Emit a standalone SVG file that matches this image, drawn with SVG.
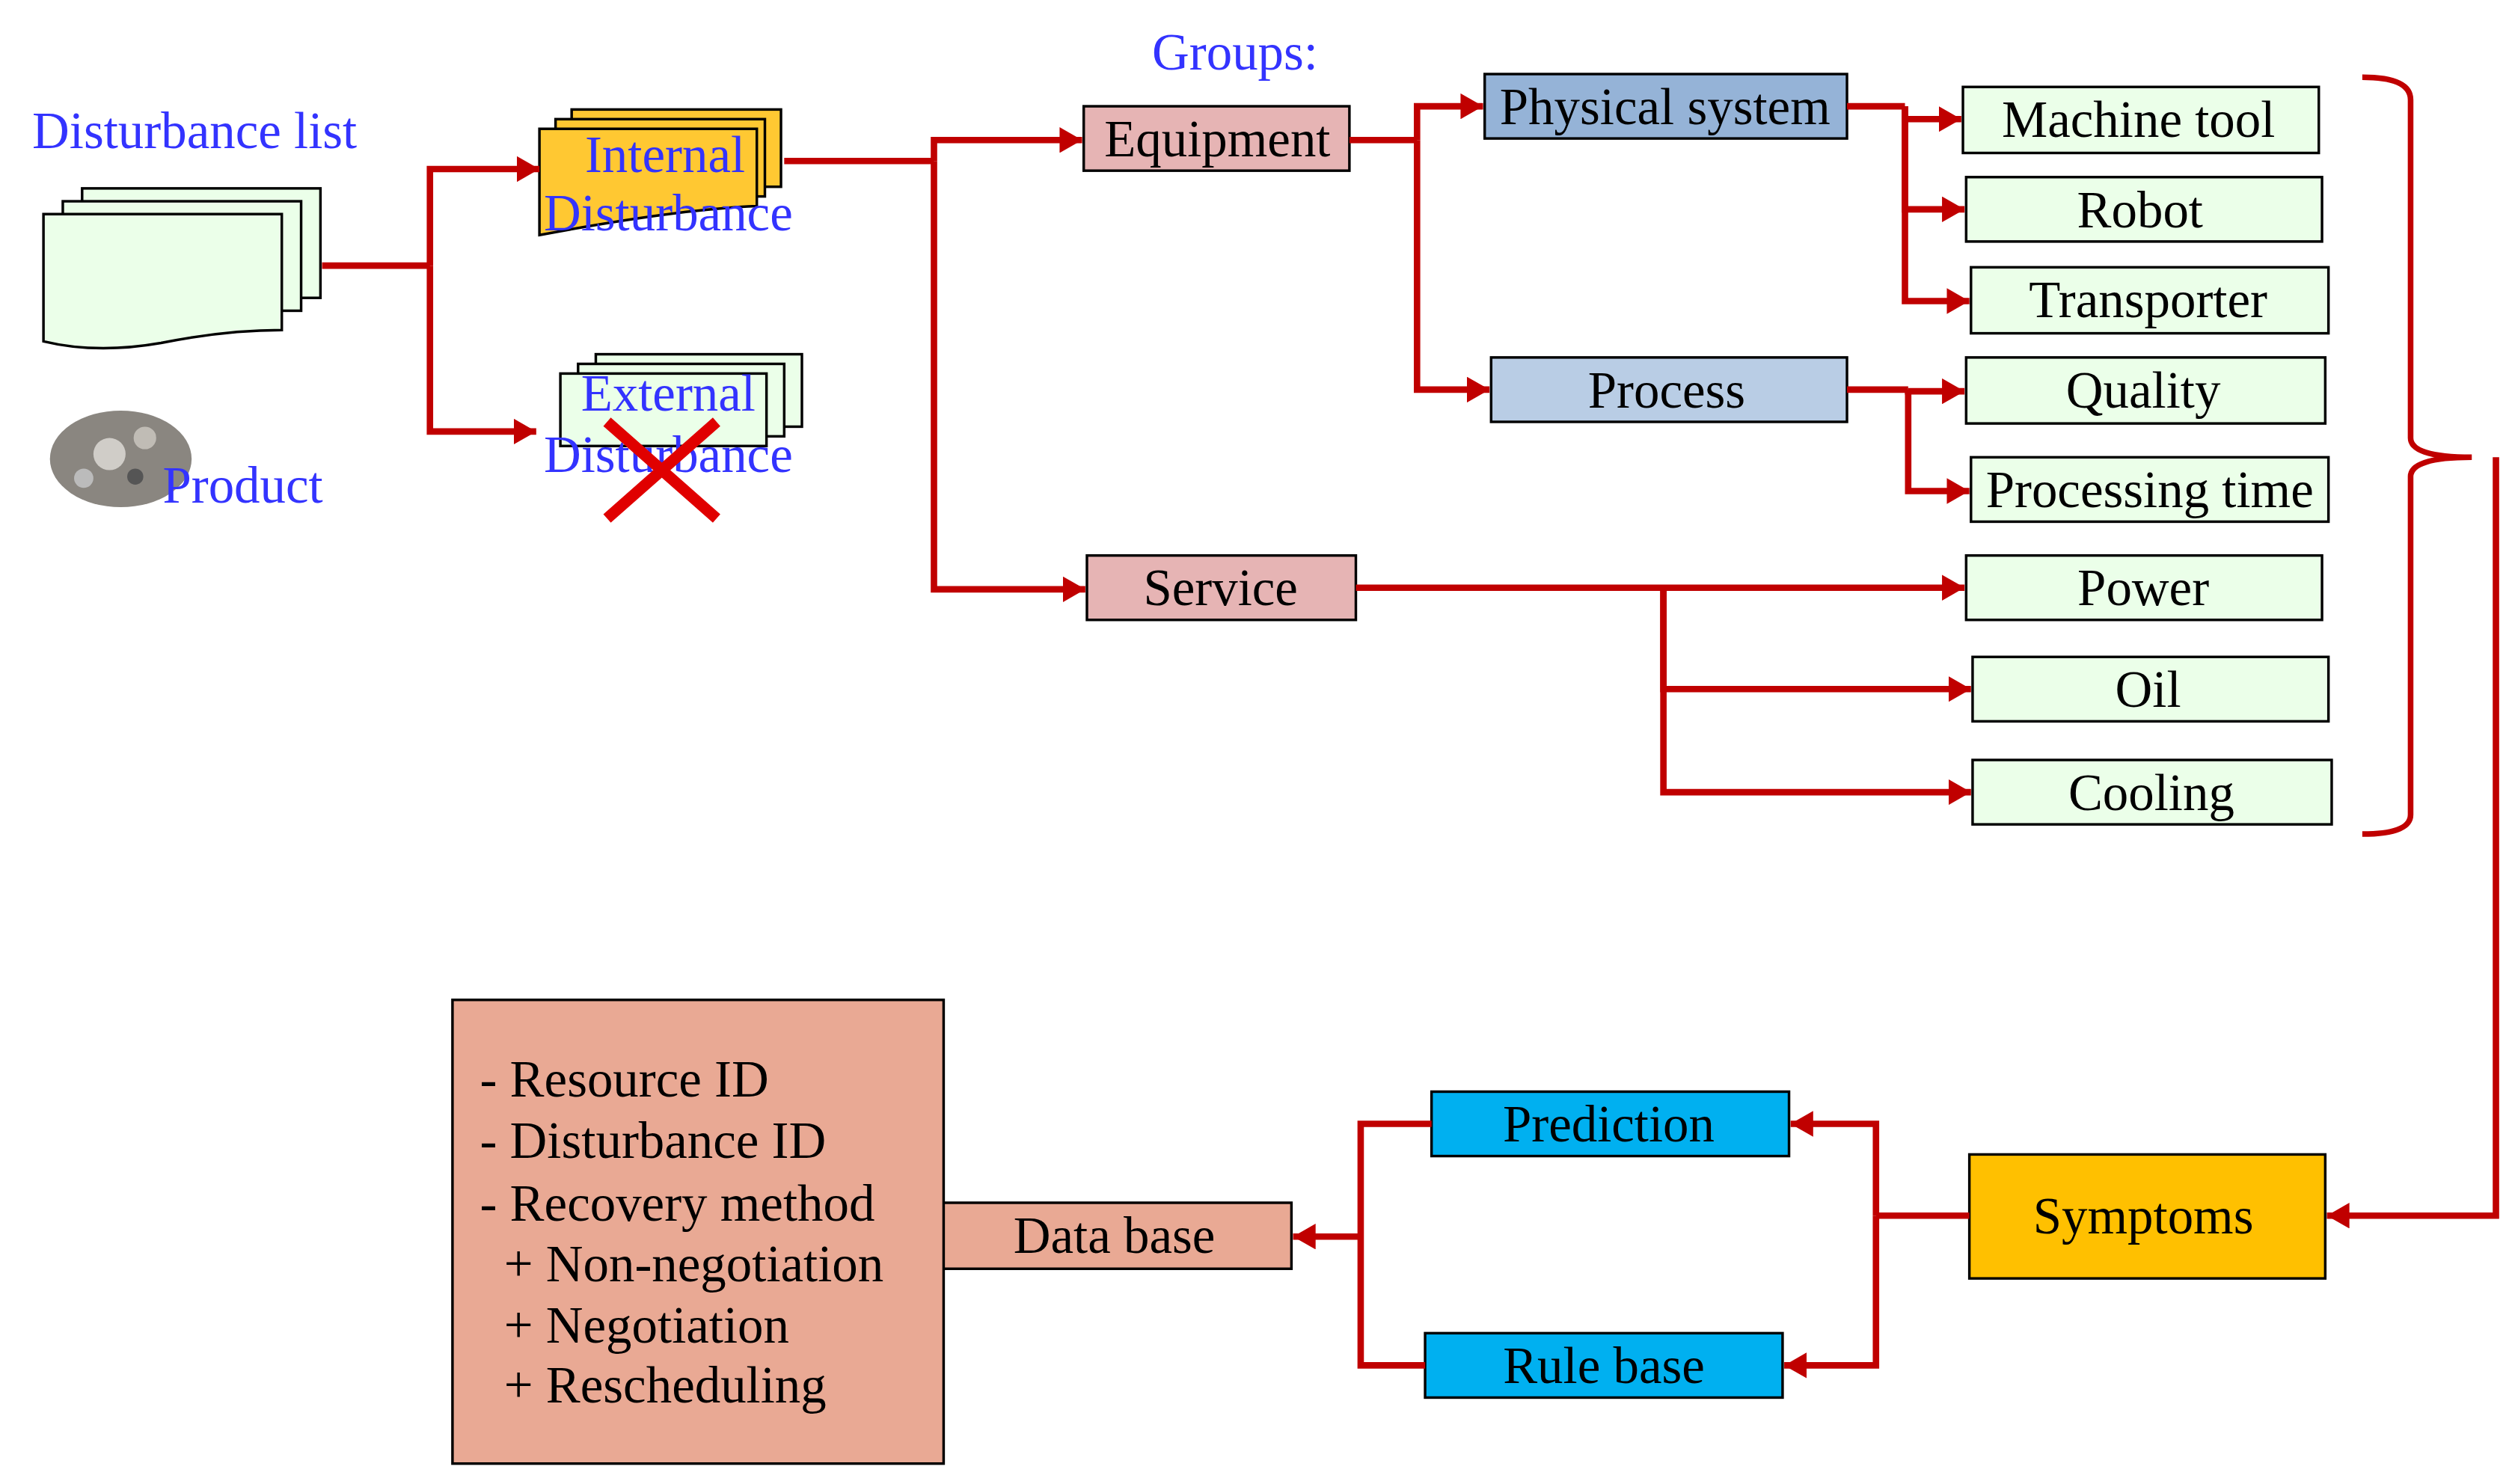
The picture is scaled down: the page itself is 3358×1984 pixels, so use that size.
<svg xmlns="http://www.w3.org/2000/svg" width="3358" height="1984" viewBox="0 0 3358 1984">
<defs>
<marker id="ah" viewBox="0 0 14 16" refX="14" refY="8" markerWidth="14" markerHeight="16" markerUnits="userSpaceOnUse" orient="auto"><path d="M0,0 L14,8 L0,16 Z" fill="#C00000"/></marker>
<style>
.b{stroke:#000;stroke-width:1.6}
.t{font-family:"Liberation Serif",serif;font-size:32px;fill:#000;text-anchor:middle}
.bl{font-family:"Liberation Serif",serif;font-size:32px;fill:#3333FF}
.c{fill:none;stroke:#C00000;stroke-width:4}
.a{marker-end:url(#ah)}
.g{fill:#EBFFE9}
</style>
</defs>
<rect width="3358" height="1984" fill="#fff"/>
<g transform="scale(2.1526)">
<g id="disturbance-list">
<text class="bl" x="20" y="92">Disturbance list</text>
<rect x="51" y="117" width="148" height="68" class="b g"/>
<rect x="39" y="125" width="148" height="68" class="b g"/>
<path d="M27,133 H175 V205 Q140,205 100,213 Q60,220 27,212 Z" class="b g"/>
</g>
<g id="product">
<ellipse cx="75" cy="285" rx="44" ry="30" fill="#8a8680"/>
<circle cx="68" cy="282" r="10" fill="#d0cdc8"/><circle cx="90" cy="272" r="7" fill="#c0bcb5"/><circle cx="52" cy="297" r="6" fill="#bbb"/><circle cx="84" cy="296" r="5" fill="#555"/>
<text class="bl" x="101" y="312">Product</text>
</g>
<g id="internal">
<rect x="355" y="68" width="130" height="48" class="b" fill="#FFC832"/>
<rect x="345" y="74" width="130" height="48" class="b" fill="#FFC832"/>
<path d="M335,80 H470 V128 Q420,130 335,146 Z" class="b" fill="#FFC832"/>
<text class="bl" x="413" y="107" text-anchor="middle">Internal</text>
<text class="bl" x="415" y="143" text-anchor="middle">Disturbance</text>
</g>
<g id="external">
<rect x="370" y="220" width="128" height="45" class="b g"/>
<rect x="359" y="226" width="128" height="45" class="b g"/>
<rect x="348" y="232" width="128" height="45" class="b g"/>
<text class="bl" x="415" y="255" text-anchor="middle">External</text>
<text class="bl" x="415" y="293" text-anchor="middle">Disturbance</text>
<path d="M377,262 L445,322 M445,262 L377,322" stroke="#E00000" stroke-width="7"/>
</g>
<text class="bl" x="767" y="43" text-anchor="middle">Groups:</text>
<g id="equipment"><rect x="673" y="66" width="165" height="40" class="b" fill="#E6B4B4"/><text class="t" x="756" y="97">Equipment</text></g>
<g id="service"><rect x="675" y="345" width="167" height="40" class="b" fill="#E6B4B4"/><text class="t" x="758" y="376">Service</text></g>
<g id="physical"><rect x="922" y="46" width="225" height="40" class="b" fill="#95B3D7"/><text class="t" x="1034" y="77">Physical system</text></g>
<g id="process"><rect x="926" y="222" width="221" height="40" class="b" fill="#B9CDE5"/><text class="t" x="1035" y="253">Process</text></g>
<g id="machine"><rect x="1219" y="54" width="221" height="41" class="b g"/><text class="t" x="1328" y="85">Machine tool</text></g>
<g id="robot"><rect x="1221" y="110" width="221" height="40" class="b g"/><text class="t" x="1329" y="141">Robot</text></g>
<g id="transporter"><rect x="1224" y="166" width="222" height="41" class="b g"/><text class="t" x="1334" y="197">Transporter</text></g>
<g id="quality"><rect x="1221" y="222" width="223" height="41" class="b g"/><text class="t" x="1331" y="253">Quality</text></g>
<g id="ptime"><rect x="1224" y="284" width="222" height="40" class="b g"/><text class="t" x="1335" y="315">Processing time</text></g>
<g id="power"><rect x="1221" y="345" width="221" height="40" class="b g"/><text class="t" x="1331" y="376">Power</text></g>
<g id="oil"><rect x="1225" y="408" width="221" height="40" class="b g"/><text class="t" x="1334" y="439">Oil</text></g>
<g id="cooling"><rect x="1225" y="472" width="223" height="40" class="b g"/><text class="t" x="1336" y="503">Cooling</text></g>
<g id="symptoms"><rect x="1223" y="717" width="221" height="77" class="b" fill="#FFC000"/><text class="t" x="1331" y="766">Symptoms</text></g>
<g id="prediction"><rect x="889" y="678" width="222" height="40" class="b" fill="#00B0F0"/><text class="t" x="999" y="709">Prediction</text></g>
<g id="rulebase"><rect x="885" y="828" width="222" height="40" class="b" fill="#00B0F0"/><text class="t" x="996" y="859">Rule base</text></g>
<g id="database"><rect x="582" y="747" width="220" height="41" class="b" fill="#E9A994"/><text class="t" x="692" y="778">Data base</text></g>
<g id="info">
<rect x="281" y="621" width="305" height="288" class="b" fill="#E9A994"/>
<g font-family="Liberation Serif,serif" font-size="32" fill="#000">
<text x="298" y="681">- Resource ID</text>
<text x="298" y="719">- Disturbance ID</text>
<text x="298" y="758">- Recovery method</text>
<text x="313" y="796">+ Non-negotiation</text>
<text x="313" y="834">+ Negotiation</text>
<text x="313" y="871">+ Rescheduling</text>
</g>
</g>
<g id="connectors">
<path class="c" d="M200,165 H267"/>
<path class="c a" d="M267,165 V105 H335"/>
<path class="c a" d="M267,165 V268 H333"/>
<path class="c" d="M487,100 H580"/>
<path class="c a" d="M580,100 V87 H672"/>
<path class="c a" d="M580,100 V366 H674"/>
<path class="c" d="M838,87 H880"/>
<path class="c a" d="M880,87 V66 H921"/>
<path class="c a" d="M880,87 V242 H925"/>
<path class="c" d="M1147,66 H1183"/>
<path class="c a" d="M1183,66 V74 H1218"/>
<path class="c a" d="M1183,66 V130 H1220"/>
<path class="c a" d="M1183,66 V187 H1223"/>
<path class="c" d="M1147,242 H1185"/>
<path class="c a" d="M1185,242 V243 H1220"/>
<path class="c a" d="M1185,242 V305 H1223"/>
<path class="c a" d="M842,365 H1220"/>
<path class="c a" d="M1033,365 V428 H1224"/>
<path class="c a" d="M1033,365 V492 H1224"/>
<path fill="none" stroke="#C00000" stroke-width="3.5" d="M1467,48 Q1497,48 1497,62 V272 Q1497,284 1535,284 Q1497,284 1497,296 V506 Q1497,518 1467,518"/>
<path class="c a" d="M1550,284 V755 H1445"/>
<path class="c" d="M1223,755 H1165"/>
<path class="c a" d="M1165,755 V698 H1112"/>
<path class="c a" d="M1165,755 V848 H1108"/>
<path class="c" d="M889,698 H845 V848 H885"/>
<path class="c a" d="M845,768 H803"/>
</g>
</g>
</svg>
